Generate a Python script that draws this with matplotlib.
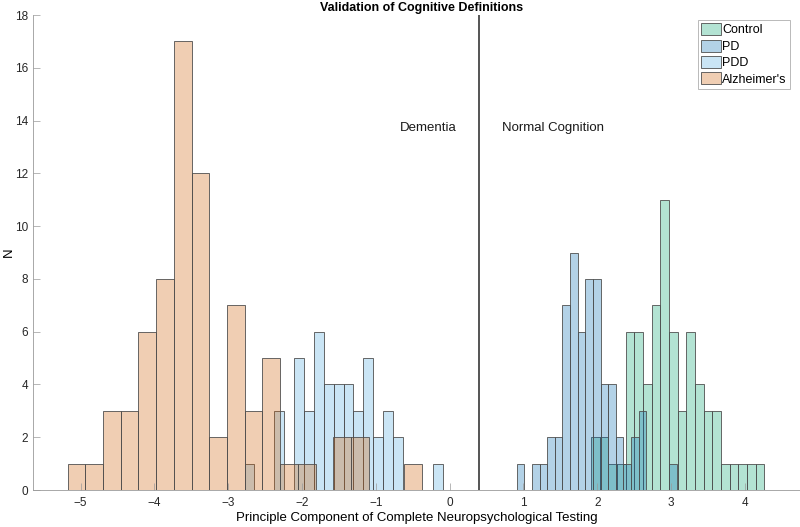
import numpy as np
import matplotlib
matplotlib.use('Agg')
import matplotlib.pyplot as plt
from matplotlib.patches import Patch

plt.rcParams['font.family'] = ['Liberation Sans', 'DejaVu Sans']

# Counts per bin
control_counts = [2, 2, 1, 1, 6, 6, 4, 7, 11, 6, 3, 6, 4, 3, 3, 1, 1, 1, 1, 1]
pd_counts = [1, 0, 1, 1, 2, 2, 7, 9, 6, 8, 8, 4, 4, 2, 1, 2, 3, 0, 0, 0, 1]
pdd_counts = [1, 0, 0, 3, 0, 5, 3, 6, 4, 4, 4, 3, 5, 2, 3, 2, 0, 0, 0, 1]
alz_counts = [1, 1, 3, 3, 6, 8, 17, 12, 2, 7, 3, 5, 1, 1, 0, 2, 2, 0, 0, 1]

# Bin ranges (first edge, last edge) of each histogram
control_range = (1.915, 4.263)
pd_range = (0.908, 3.079)
pdd_range = (-2.778, -0.096)
alz_range = (-5.176, -0.374)

labels = ['Control', 'PD', 'PDD', "Alzheimer's"]
colors = ['#05a570', '#056cb2', '#52ace1', '#d05f05']
alpha = 0.3

fig = plt.figure(figsize=(8, 5.27), dpi=100)
ax = fig.add_axes([0.0416, 0.0702, 0.9584, 0.9013])

groups = [(control_counts, control_range), (pd_counts, pd_range),
          (pdd_counts, pdd_range), (alz_counts, alz_range)]
for (counts, rng), col in zip(groups, colors):
    edges = np.linspace(rng[0], rng[1], len(counts) + 1)
    face = matplotlib.colors.to_rgba(col, alpha)
    ax.bar(edges[:-1], counts, width=np.diff(edges), align='edge',
           facecolor=face, edgecolor='#4f4f4f', linewidth=0.6)

# dividing line between dementia and normal cognition
cutoff = 0.40
ax.axvline(cutoff, color='#262626', linewidth=1.1)
ax.text(0.095, 13.72, 'Dementia', ha='right', va='center', fontsize=9.5, color='#1a1a1a')
ax.text(0.705, 13.72, 'Normal Cognition', ha='left', va='center', fontsize=9.5, color='#1a1a1a')

ax.set_xlim(-5.64, 4.747)
ax.set_ylim(0, 18)
ax.set_xticks(range(-5, 5))
ax.set_yticks(range(0, 19, 2))
ax.tick_params(direction='in', length=4.8, width=0.5, colors='#9a9a9a',
               labelcolor='#262626', labelsize=8.5)
ax.tick_params(axis='x', pad=5)
for s in ['top', 'right']:
    ax.spines[s].set_visible(False)
for s in ['left', 'bottom']:
    ax.spines[s].set_color('#9a9a9a')
    ax.spines[s].set_linewidth(0.6)

ax.set_xlabel('Principle Component of Complete Neuropsychological Testing', fontsize=9.5, labelpad=2)
ax.set_ylabel('N', fontsize=9.5, labelpad=0)
ax.set_title('Validation of Cognitive Definitions', fontsize=9, fontweight='bold',
             x=0.506, pad=3)

handles = [Patch(facecolor=matplotlib.colors.to_rgba(c, alpha), edgecolor='#4f4f4f',
                 linewidth=0.6) for c in colors]
leg = ax.legend(handles, labels, loc='upper right', fontsize=9, frameon=True,
                fancybox=False, borderpad=0.25, labelspacing=0.25, handlelength=1.6,
                handleheight=1.1, handletextpad=0.1, borderaxespad=0,
                bbox_to_anchor=(0.987, 0.9895))
leg.get_frame().set_edgecolor('#9a9a9a')
leg.get_frame().set_linewidth(0.6)

fig.savefig('out.png', dpi=100)
